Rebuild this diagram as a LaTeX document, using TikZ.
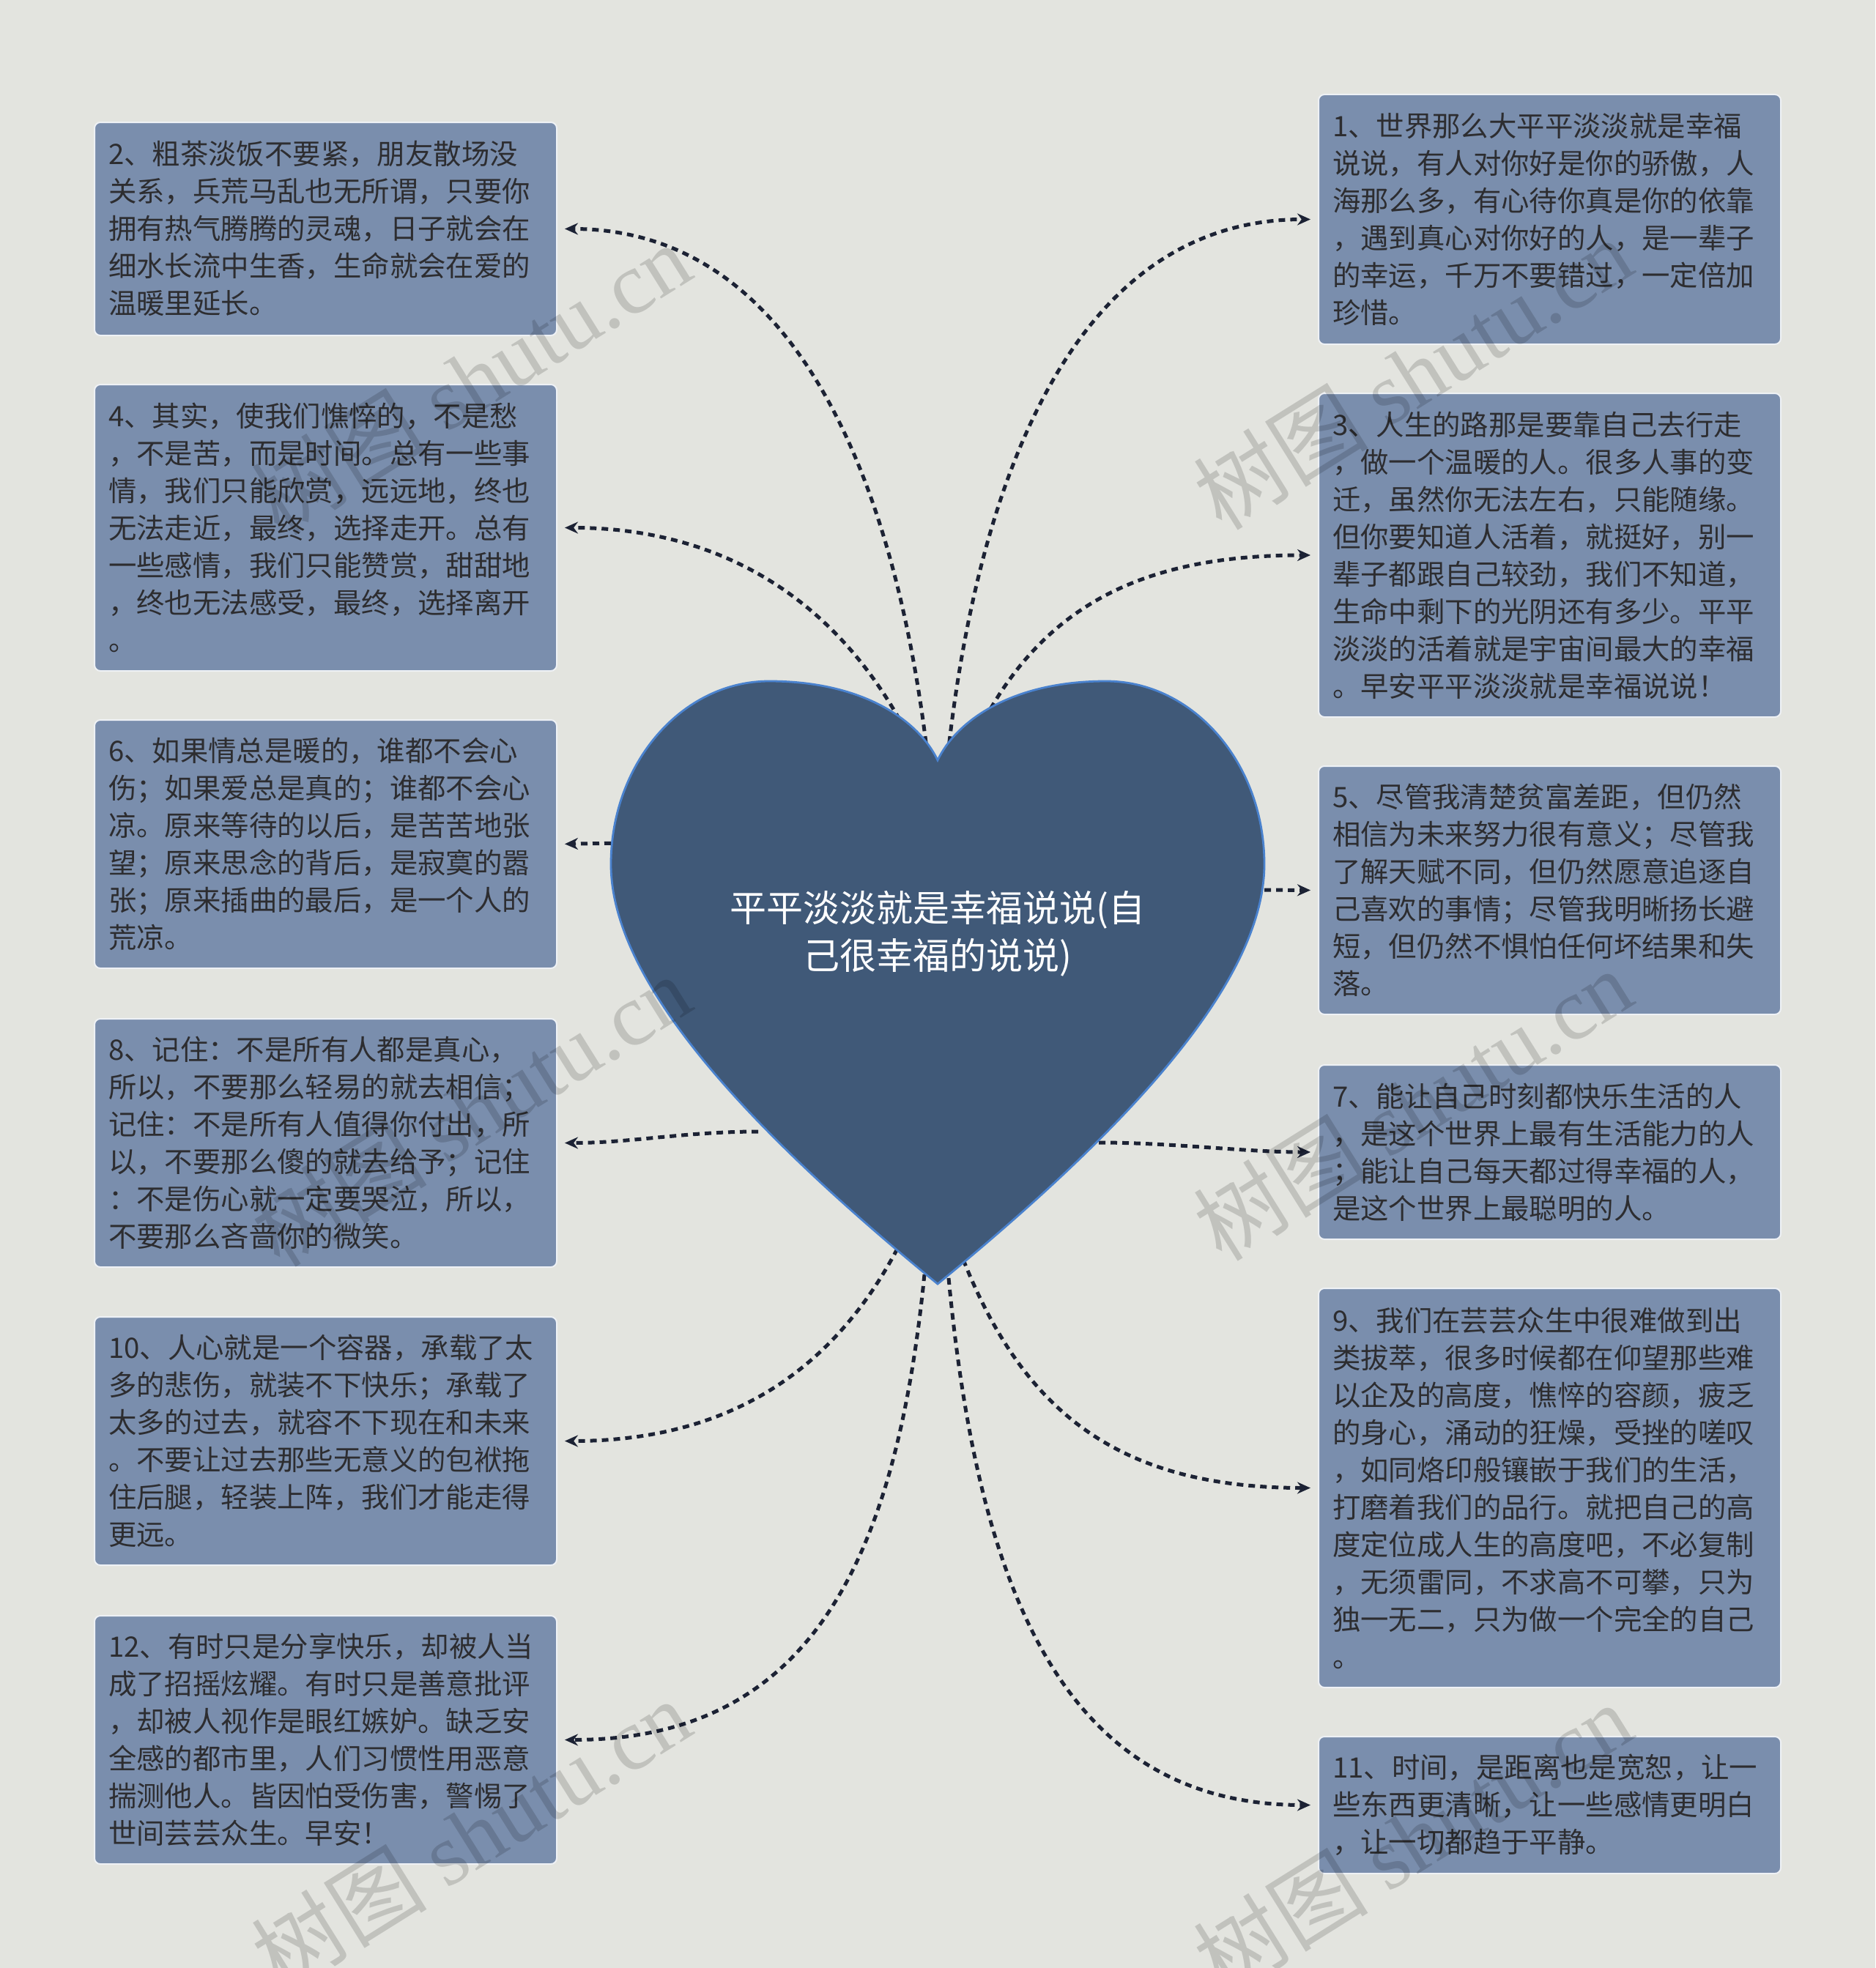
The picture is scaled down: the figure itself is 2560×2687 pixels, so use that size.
\documentclass[tikz,border=0pt]{standalone}
\usepackage{fontspec}
\setmainfont{Noto Sans CJK SC}
\newfontfamily\wmfont{Liberation Serif}
\usetikzlibrary{arrows.meta,calc}
\usepackage{xcolor}

\definecolor{bgcol}{RGB}{227,228,223}
\definecolor{heartfill}{RGB}{64,89,120}
\definecolor{heartline}{RGB}{74,130,206}
\definecolor{boxfill}{RGB}{122,142,173}
\definecolor{boxline}{RGB}{238,241,245}
\definecolor{boxtext}{RGB}{45,45,48}
\definecolor{linkcol}{RGB}{28,34,52}

\tikzset{
  leaf/.style={draw=boxline, line width=1pt, fill=boxfill, rounded corners=4pt, anchor=north west,
    text width=296.5pt, minimum height=#1, inner xsep=9.5pt, inner ysep=0pt, align=left,
    text=boxtext, font=\fontsize{19.2pt}{25.5pt}\selectfont},
  link/.style={draw=linkcol, line width=2.5pt, dash pattern=on 4.5pt off 3.5pt,
    -{Stealth[length=9pt,width=8pt]}, shorten >=5pt},
  wmark/.style={rotate=32, text=black, opacity=0.15, font=\fontsize{60pt}{60pt}\selectfont},
}

\begin{document}
\begin{tikzpicture}[x=0.5pt,y=0.5pt,yscale=-1,xscale=1]
\useasboundingbox[fill=bgcol] (0,0) rectangle (2560,2687);

% Text Node
\node[leaf=170.5pt] (s1) at (1799,128) {1、世界那么大平平淡淡就是幸福\\说说，有人对你好是你的骄傲，人\\海那么多，有心待你真是你的依靠\\，遇到真心对你好的人，是一辈子\\的幸运，千万不要错过，一定倍加\\珍惜。};
% Text Node
\node[leaf=145.5pt] (s2) at (128,166) {2、粗茶淡饭不要紧，朋友散场没\\关系，兵荒马乱也无所谓，只要你\\拥有热气腾腾的灵魂，日子就会在\\细水长流中生香，生命就会在爱的\\温暖里延长。};
% Text Node
\node[leaf=221pt] (s3) at (1799,536) {3、人生的路那是要靠自己去行走\\，做一个温暖的人。很多人事的变\\迁，虽然你无法左右，只能随缘。\\但你要知道人活着，就挺好，别一\\辈子都跟自己较劲，我们不知道，\\生命中剩下的光阴还有多少。平平\\淡淡的活着就是宇宙间最大的幸福\\。早安平平淡淡就是幸福说说！};
% Text Node
\node[leaf=195.5pt] (s4) at (128,524) {4、其实，使我们憔悴的，不是愁\\，不是苦，而是时间。总有一些事\\情，我们只能欣赏，远远地，终也\\无法走近，最终，选择走开。总有\\一些感情，我们只能赞赏，甜甜地\\，终也无法感受，最终，选择离开\\。};
% Text Node
\node[leaf=169.5pt] (s5) at (1799,1045) {5、尽管我清楚贫富差距，但仍然\\相信为未来努力很有意义；尽管我\\了解天赋不同，但仍然愿意追逐自\\己喜欢的事情；尽管我明晰扬长避\\短，但仍然不惧怕任何坏结果和失\\落。};
% Text Node
\node[leaf=169.5pt] (s6) at (128,982) {6、如果情总是暖的，谁都不会心\\伤；如果爱总是真的；谁都不会心\\凉。原来等待的以后，是苦苦地张\\望；原来思念的背后，是寂寞的嚣\\张；原来插曲的最后，是一个人的\\荒凉。};
% Text Node
\node[leaf=119pt] (s7) at (1799,1453) {7、能让自己时刻都快乐生活的人\\，是这个世界上最有生活能力的人\\；能让自己每天都过得幸福的人，\\是这个世界上最聪明的人。};
% Text Node
\node[leaf=169.5pt] (s8) at (128,1390) {8、记住：不是所有人都是真心，\\所以，不要那么轻易的就去相信；\\记住：不是所有人值得你付出，所\\以，不要那么傻的就去给予；记住\\：不是伤心就一定要哭泣，所以，\\不要那么吝啬你的微笑。};
% Text Node
\node[leaf=272.5pt] (s9) at (1799,1758) {9、我们在芸芸众生中很难做到出\\类拔萃，很多时候都在仰望那些难\\以企及的高度，憔悴的容颜，疲乏\\的身心，涌动的狂燥，受挫的嗟叹\\，如同烙印般镶嵌于我们的生活，\\打磨着我们的品行。就把自己的高\\度定位成人生的高度吧，不必复制\\，无须雷同，不求高不可攀，只为\\独一无二，只为做一个完全的自己\\。};
% Text Node
\node[leaf=169.5pt] (s10) at (128,1797) {10、人心就是一个容器，承载了太\\多的悲伤，就装不下快乐；承载了\\太多的过去，就容不下现在和未来\\。不要让过去那些无意义的包袱拖\\住后腿，轻装上阵，我们才能走得\\更远。};
% Text Node
\node[leaf=93.5pt] (s11) at (1799,2370) {11、时间，是距离也是宽恕，让一\\些东西更清晰，让一些感情更明白\\，让一切都趋于平静。};
% Text Node
\node[leaf=169.5pt] (s12) at (128,2205) {12、有时只是分享快乐，却被人当\\成了招摇炫耀。有时只是善意批评\\，却被人视作是眼红嫉妒。缺乏安\\全感的都市里，人们习惯性用恶意\\揣测他人。皆因怕受伤害，警惕了\\世间芸芸众生。早安！};

% heart points
\coordinate (h1) at (1294,1030);
\coordinate (h2) at (1266,1030);
\coordinate (h3) at (1330,1010);
\coordinate (h4) at (1250,1025);
\coordinate (h5) at (1710,1215);
\coordinate (h6) at (850,1151);
\coordinate (h7) at (1500,1560);
\coordinate (h8) at (1035,1545);
\coordinate (h9) at (1315,1720);
\coordinate (h10) at (1225,1705);
\coordinate (h11) at (1295,1745);
\coordinate (h12) at (1262,1740);

%Curve Lines
\draw[link] (h1) .. controls ($(h1)+(40,-360)$) and ($(s1.west)+(-340,0)$) .. (s1.west);
\draw[link] (h2) .. controls ($(h2)+(-40,-340)$) and ($(s2.east)+(340,0)$) .. (s2.east);
\draw[link] (h3) .. controls ($(h3)+(90,-190)$) and ($(s3.west)+(-230,0)$) .. (s3.west);
\draw[link] (h4) .. controls ($(h4)+(-95,-200)$) and ($(s4.east)+(230,0)$) .. (s4.east);
\draw[link] (h5) -- (s5.west);
\draw[link] (h6) -- (s6.east);
\draw[link] (h7) .. controls ($(h7)+(100,0)$) and ($(s7.west)+(-100,0)$) .. (s7.west);
\draw[link] (h8) .. controls ($(h8)+(-100,0)$) and ($(s8.east)+(100,0)$) .. (s8.east);
\draw[link] (h9) .. controls ($(h9)+(80,200)$) and ($(s9.west)+(-280,0)$) .. (s9.west);
\draw[link] (h10) .. controls ($(h10)+(-90,170)$) and ($(s10.east)+(230,0)$) .. (s10.east);
\draw[link] (h11) .. controls ($(h11)+(40,420)$) and ($(s11.west)+(-350,0)$) .. (s11.west);
\draw[link] (h12) .. controls ($(h12)+(-40,400)$) and ($(s12.east)+(340,0)$) .. (s12.east);

%Shape: Heart
\draw[draw=heartline, line width=1.4pt, fill=heartfill] (1280,1038) .. controls (1255,985) and (1180,930) .. (1050,930) .. controls (931,930) and (834,1042) .. (834,1180) .. controls (834,1340) and (1020,1540) .. (1280,1753) .. controls (1540,1540) and (1726,1340) .. (1726,1180) .. controls (1726,1042) and (1629,930) .. (1510,930) .. controls (1380,930) and (1305,985) .. (1280,1038) -- cycle;

% Text Node
\node[font=\fontsize{25pt}{32.5pt}\selectfont, text=white, align=center] (title) at (1280,1275) {平平淡淡就是幸福说说(自\\己很幸福的说说)};

% watermarks
\node[wmark] (wm1) at (643,517) {树图 {\wmfont shutu.cn}};
\node[wmark] (wm2) at (1928,510) {树图 {\wmfont shutu.cn}};
\node[wmark] (wm3) at (643,1516) {树图 {\wmfont shutu.cn}};
\node[wmark] (wm4) at (1928,1508) {树图 {\wmfont shutu.cn}};
\node[wmark] (wm5) at (643,2505) {树图 {\wmfont shutu.cn}};
\node[wmark] (wm6) at (1928,2510) {树图 {\wmfont shutu.cn}};

\end{tikzpicture}
\end{document}
